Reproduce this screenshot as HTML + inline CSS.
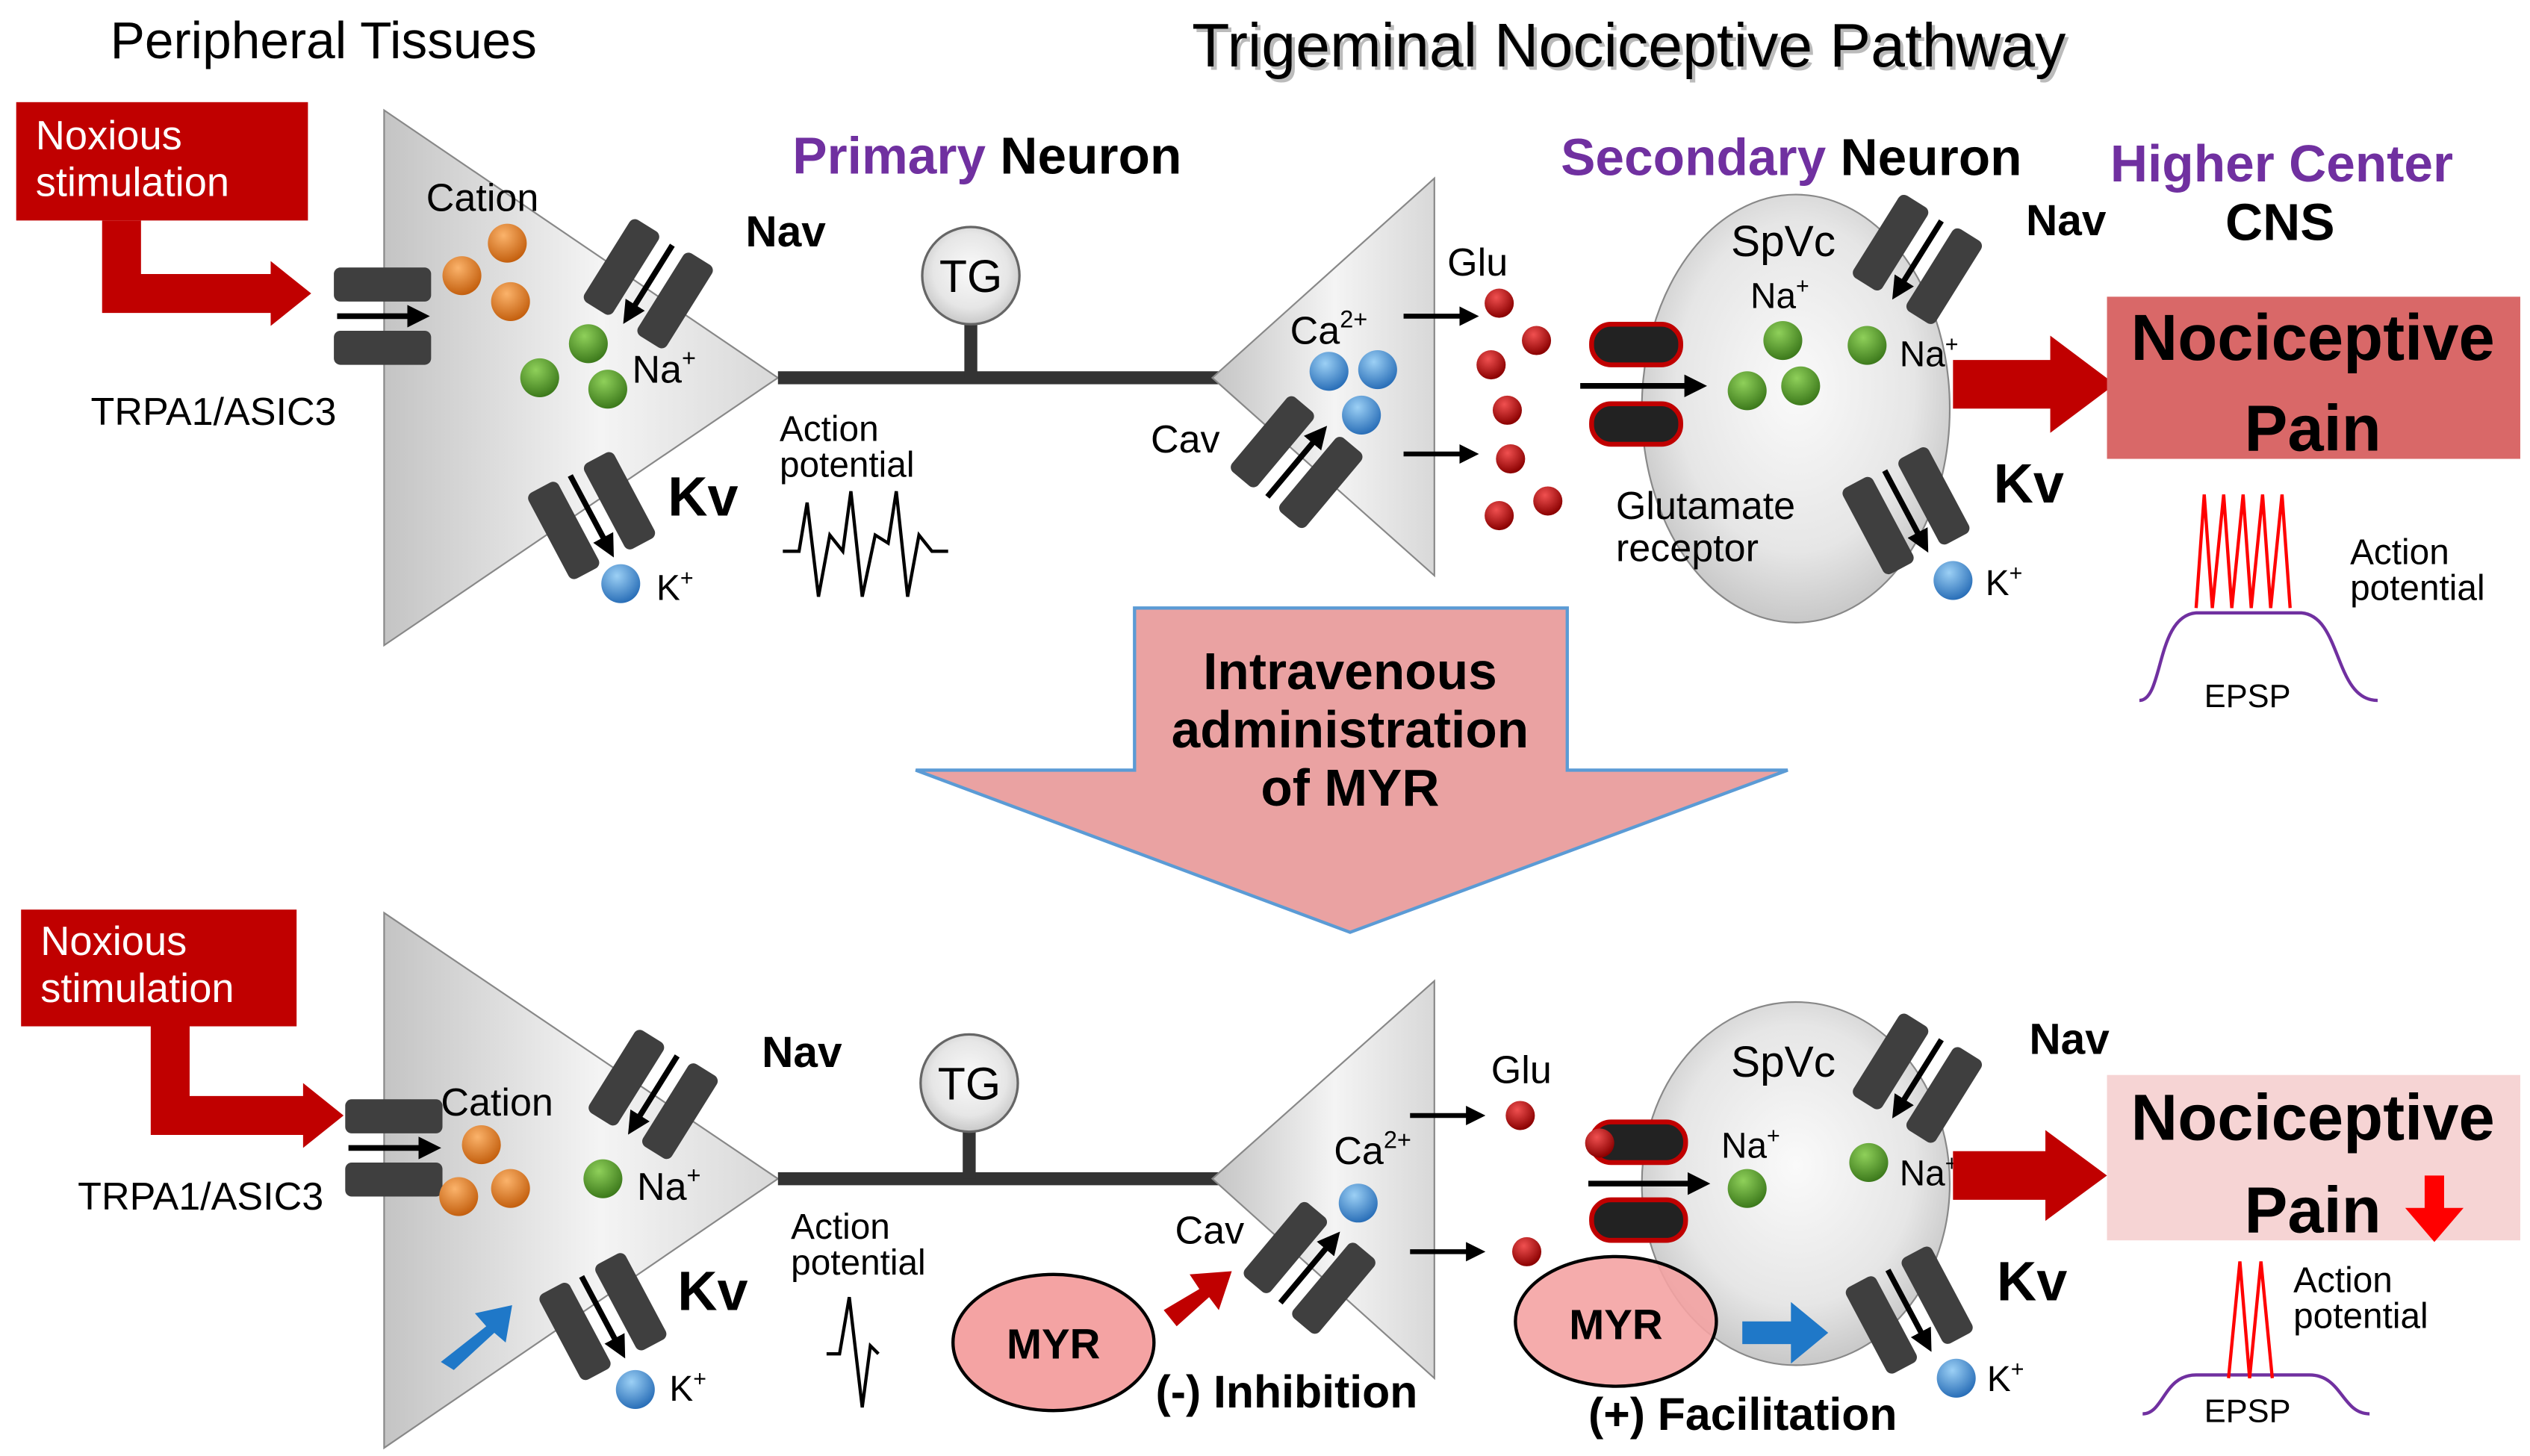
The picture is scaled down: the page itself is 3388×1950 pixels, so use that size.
<!DOCTYPE html>
<html><head><meta charset="utf-8"><style>html,body{margin:0;padding:0;background:#fff}svg{display:block}text{font-family:"Liberation Sans",sans-serif}</style></head><body>
<svg width="3388" height="1950" viewBox="0 0 1561 898" preserveAspectRatio="none" xmlns="http://www.w3.org/2000/svg">
<defs>
<linearGradient id="tri" x1="0" y1="0" x2="1" y2="0"><stop offset="0" stop-color="#c4c4c4"/><stop offset="0.55" stop-color="#f4f4f4"/><stop offset="1" stop-color="#d8d8d8"/></linearGradient>
<radialGradient id="cir" cx="0.5" cy="0.45" r="0.55"><stop offset="0" stop-color="#fafafa"/><stop offset="0.7" stop-color="#e6e6e6"/><stop offset="1" stop-color="#c8c8c8"/></radialGradient>
<radialGradient id="or" cx="0.4" cy="0.3" r="0.7"><stop offset="0" stop-color="#fbb36b"/><stop offset="1" stop-color="#c4600f"/></radialGradient>
<radialGradient id="gr" cx="0.4" cy="0.3" r="0.7"><stop offset="0" stop-color="#8fd05a"/><stop offset="1" stop-color="#3d7a1c"/></radialGradient>
<radialGradient id="bl" cx="0.4" cy="0.3" r="0.7"><stop offset="0" stop-color="#9cd0f5"/><stop offset="1" stop-color="#2a6fb8"/></radialGradient>
<radialGradient id="rd" cx="0.4" cy="0.3" r="0.7"><stop offset="0" stop-color="#f05050"/><stop offset="1" stop-color="#8a0000"/></radialGradient>
<marker id="ah" markerWidth="4" markerHeight="4" refX="2.5" refY="2" orient="auto"><path d="M0,0 L4,2 L0,4 z" fill="#000"/></marker>
<g id="ch"><rect x="-30" y="-30" width="21" height="60" rx="4" fill="#3f3f3f"/><rect x="9" y="-30" width="21" height="60" rx="4" fill="#3f3f3f"/><line x1="0" y1="-28" x2="0" y2="24" stroke="#000" stroke-width="3.5" marker-end="url(#ah)"/></g>
</defs>
<text x="68" y="36" font-size="32">Peripheral Tissues</text>
<text x="1007" y="43" font-size="38" text-anchor="middle" fill="#bbb">Trigeminal Nociceptive Pathway</text>
<text x="1005" y="41" font-size="38" text-anchor="middle">Trigeminal Nociceptive Pathway</text>

<!-- TOP -->
<rect x="10" y="63" width="180" height="73" fill="#c00000"/>
<text x="22" y="92" font-size="25" fill="#fff">Noxious</text><text x="22" y="121" font-size="25" fill="#fff">stimulation</text>
<path d="M75,136 V181 H170" stroke="#c00000" stroke-width="24" fill="none"/><path d="M167,161 L192,181 L167,201z" fill="#c00000"/>
<polygon points="237,68 237,398 480,233" fill="url(#tri)" stroke="#888"/>
<use href="#ch" transform="translate(236,195) rotate(-90)"/>
<text x="56" y="262" font-size="24">TRPA1/ASIC3</text>
<text x="263" y="130" font-size="24">Cation</text>
<circle cx="313" cy="150" r="12" fill="url(#or)"/><circle cx="285" cy="170" r="12" fill="url(#or)"/><circle cx="315" cy="186" r="12" fill="url(#or)"/>
<use href="#ch" transform="translate(400,175) rotate(32)"/>
<circle cx="333" cy="233" r="12" fill="url(#gr)"/><circle cx="363" cy="212" r="12" fill="url(#gr)"/><circle cx="375" cy="240" r="12" fill="url(#gr)"/>
<text x="390" y="236" font-size="24">Na<tspan font-size="15" dy="-10">+</tspan></text>
<text x="460" y="152" font-size="27" font-weight="bold">Nav</text>
<use href="#ch" transform="translate(365,318) rotate(-28)"/>
<circle cx="383" cy="360" r="12" fill="url(#bl)"/>
<text x="405" y="370" font-size="22">K<tspan font-size="14" dy="-9">+</tspan></text>
<text x="412" y="318" font-size="34" font-weight="bold">Kv</text>
<line x1="480" y1="233" x2="752" y2="233" stroke="#333" stroke-width="8"/>
<line x1="599" y1="195" x2="599" y2="233" stroke="#333" stroke-width="8"/>
<circle cx="599" cy="170" r="30" fill="url(#cir)" stroke="#666" stroke-width="1.5"/>
<text x="599" y="180" font-size="28" text-anchor="middle">TG</text>
<text x="489" y="107" font-size="32" font-weight="bold" fill="#7030a0">Primary <tspan fill="#000">Neuron</tspan></text>
<text x="481" y="272" font-size="22">Action</text><text x="481" y="294" font-size="22">potential</text>
<path d="M483,340 H493 L498,310 L505,368 L512,330 L520,340 L525,303 L532,368 L540,330 L548,335 L553,303 L560,368 L567,330 L575,340 L585,340" stroke="#000" stroke-width="2" fill="none"/>
<polygon points="885,110 885,355 748,233" fill="url(#tri)" stroke="#888"/>
<text x="796" y="212" font-size="24">Ca<tspan font-size="15" dy="-10">2+</tspan></text>
<circle cx="820" cy="229" r="12" fill="url(#bl)"/><circle cx="850" cy="228" r="12" fill="url(#bl)"/><circle cx="840" cy="256" r="12" fill="url(#bl)"/>
<text x="710" y="279" font-size="24">Cav</text>
<use href="#ch" transform="translate(800,285) rotate(-140)"/>
<text x="893" y="170" font-size="24">Glu</text>
<line x1="866" y1="195" x2="908" y2="195" stroke="#000" stroke-width="3" marker-end="url(#ah)"/>
<line x1="866" y1="280" x2="908" y2="280" stroke="#000" stroke-width="3" marker-end="url(#ah)"/>
<g fill="url(#rd)"><circle cx="925" cy="187" r="9"/><circle cx="948" cy="210" r="9"/><circle cx="920" cy="225" r="9"/><circle cx="930" cy="253" r="9"/><circle cx="932" cy="283" r="9"/><circle cx="955" cy="309" r="9"/><circle cx="925" cy="318" r="9"/></g>
<ellipse cx="1108" cy="252" rx="95" ry="132" fill="url(#cir)" stroke="#888"/>
<rect x="982" y="200" width="55" height="25" rx="12" fill="#222" stroke="#c00000" stroke-width="3"/>
<rect x="982" y="249" width="55" height="25" rx="12" fill="#222" stroke="#c00000" stroke-width="3"/>
<line x1="975" y1="238" x2="1048" y2="238" stroke="#000" stroke-width="3.5" marker-end="url(#ah)"/>
<text x="997" y="320" font-size="24">Glutamate</text><text x="997" y="346" font-size="24">receptor</text>
<text x="1068" y="158" font-size="27">SpVc</text>
<text x="1080" y="190" font-size="22">Na<tspan font-size="14" dy="-9">+</tspan></text>
<circle cx="1100" cy="210" r="12" fill="url(#gr)"/><circle cx="1078" cy="241" r="12" fill="url(#gr)"/><circle cx="1111" cy="238" r="12" fill="url(#gr)"/><circle cx="1152" cy="213" r="12" fill="url(#gr)"/>
<text x="1172" y="226" font-size="22">Na<tspan font-size="14" dy="-9">+</tspan></text>
<use href="#ch" transform="translate(1183,160) rotate(32)"/>
<text x="1250" y="145" font-size="27" font-weight="bold">Nav</text>
<use href="#ch" transform="translate(1176,315) rotate(-28)"/>
<circle cx="1205" cy="358" r="12" fill="url(#bl)"/>
<text x="1225" y="367" font-size="22">K<tspan font-size="14" dy="-9">+</tspan></text>
<text x="1230" y="310" font-size="34" font-weight="bold">Kv</text>
<text x="963" y="108" font-size="32" font-weight="bold" fill="#7030a0">Secondary <tspan fill="#000">Neuron</tspan></text>
<text x="1302" y="112" font-size="32" font-weight="bold" fill="#7030a0">Higher  Center</text>
<text x="1373" y="148" font-size="32" font-weight="bold">CNS</text>
<path d="M1205,222 H1265 V207 L1305,237 L1265,267 V252 H1205z" fill="#c00000"/>
<rect x="1300" y="183" width="255" height="100" fill="#d96868"/>
<text x="1427" y="222" font-size="40" font-weight="bold" text-anchor="middle">Nociceptive</text>
<text x="1427" y="278" font-size="40" font-weight="bold" text-anchor="middle">Pain</text>
<path d="M1320,432 C1335,432 1330,380 1355,378 L1420,378 C1445,380 1440,432 1467,432" stroke="#7030a0" stroke-width="2" fill="none"/>
<path d="M1355,375 L1360,305 L1365,375 L1372,305 L1377,375 L1384,305 L1389,375 L1396,305 L1401,375 L1408,305 L1413,375" stroke="#f00" stroke-width="2" fill="none"/>
<text x="1450" y="348" font-size="22">Action</text><text x="1450" y="370" font-size="22">potential</text>
<text x="1360" y="436" font-size="20">EPSP</text>

<!-- BIG ARROW -->
<polygon points="700,375 967,375 967,475 1103,475 833,575 565,475 700,475" fill="#eaa2a2" stroke="#5b9bd5" stroke-width="2"/>
<text x="833" y="425" font-size="32" font-weight="bold" text-anchor="middle">Intravenous</text>
<text x="833" y="461" font-size="32" font-weight="bold" text-anchor="middle">administration</text>
<text x="833" y="497" font-size="32" font-weight="bold" text-anchor="middle">of MYR</text>

<!-- BOTTOM -->
<rect x="13" y="561" width="170" height="72" fill="#c00000"/>
<text x="25" y="589" font-size="25" fill="#fff">Noxious</text><text x="25" y="618" font-size="25" fill="#fff">stimulation</text>
<path d="M105,633 V688 H190" stroke="#c00000" stroke-width="24" fill="none"/><path d="M187,668 L212,688 L187,708z" fill="#c00000"/>
<polygon points="237,563 237,893 480,727" fill="url(#tri)" stroke="#888"/>
<use href="#ch" transform="translate(243,708) rotate(-90)"/>
<text x="48" y="746" font-size="24">TRPA1/ASIC3</text>
<text x="272" y="688" font-size="24">Cation</text>
<circle cx="297" cy="706" r="12" fill="url(#or)"/><circle cx="283" cy="738" r="12" fill="url(#or)"/><circle cx="315" cy="733" r="12" fill="url(#or)"/>
<use href="#ch" transform="translate(403,675) rotate(32)"/>
<circle cx="372" cy="727" r="12" fill="url(#gr)"/>
<text x="393" y="740" font-size="24">Na<tspan font-size="15" dy="-10">+</tspan></text>
<text x="470" y="658" font-size="27" font-weight="bold">Nav</text>
<path d="M272,840 L300,818 L293,810 L316,805 L312,828 L305,822 L280,845z" fill="#1f78c8"/>
<use href="#ch" transform="translate(372,812) rotate(-28)"/>
<circle cx="392" cy="857" r="12" fill="url(#bl)"/>
<text x="413" y="864" font-size="22">K<tspan font-size="14" dy="-9">+</tspan></text>
<text x="418" y="808" font-size="34" font-weight="bold">Kv</text>
<line x1="480" y1="727" x2="752" y2="727" stroke="#333" stroke-width="8"/>
<line x1="598" y1="690" x2="598" y2="727" stroke="#333" stroke-width="8"/>
<circle cx="598" cy="668" r="30" fill="url(#cir)" stroke="#666" stroke-width="1.5"/>
<text x="598" y="678" font-size="28" text-anchor="middle">TG</text>
<text x="488" y="764" font-size="22">Action</text><text x="488" y="786" font-size="22">potential</text>
<path d="M510,835 H518 L524,800 L532,868 L537,830 L542,835" stroke="#000" stroke-width="2" fill="none"/>
<polygon points="885,605 885,850 748,727" fill="url(#tri)" stroke="#888"/>
<text x="823" y="718" font-size="24">Ca<tspan font-size="15" dy="-10">2+</tspan></text>
<circle cx="838" cy="742" r="12" fill="url(#bl)"/>
<text x="725" y="767" font-size="24">Cav</text>
<use href="#ch" transform="translate(808,782) rotate(-140)"/>
<ellipse cx="650" cy="828" rx="62" ry="42" fill="#f4a3a3" stroke="#000" stroke-width="2"/>
<text x="650" y="838" font-size="26" font-weight="bold" text-anchor="middle">MYR</text>
<path d="M718,808 L740,795 L734,786 L760,784 L752,808 L746,800 L726,818z" fill="#c00000"/>
<text x="713" y="868" font-size="28" font-weight="bold">(-) Inhibition</text>
<text x="920" y="668" font-size="24">Glu</text>
<line x1="870" y1="688" x2="912" y2="688" stroke="#000" stroke-width="3" marker-end="url(#ah)"/>
<line x1="870" y1="772" x2="912" y2="772" stroke="#000" stroke-width="3" marker-end="url(#ah)"/>
<circle cx="938" cy="688" r="9" fill="url(#rd)"/><circle cx="942" cy="772" r="9" fill="url(#rd)"/>
<ellipse cx="1108" cy="730" rx="95" ry="112" fill="url(#cir)" stroke="#888"/>
<rect x="982" y="692" width="58" height="25" rx="12" fill="#222" stroke="#c00000" stroke-width="3"/>
<rect x="982" y="740" width="58" height="25" rx="12" fill="#222" stroke="#c00000" stroke-width="3"/>
<circle cx="987" cy="705" r="9" fill="url(#rd)"/>
<line x1="980" y1="730" x2="1050" y2="730" stroke="#000" stroke-width="3.5" marker-end="url(#ah)"/>
<text x="1068" y="664" font-size="27">SpVc</text>
<text x="1062" y="714" font-size="22">Na<tspan font-size="14" dy="-9">+</tspan></text>
<circle cx="1078" cy="733" r="12" fill="url(#gr)"/><circle cx="1153" cy="717" r="12" fill="url(#gr)"/>
<text x="1172" y="731" font-size="22">Na<tspan font-size="14" dy="-9">+</tspan></text>
<use href="#ch" transform="translate(1183,665) rotate(32)"/>
<text x="1252" y="650" font-size="27" font-weight="bold">Nav</text>
<ellipse cx="997" cy="815" rx="62" ry="40" fill="#f4a3a3" stroke="#000" stroke-width="2" fill-opacity="0.9"/>
<text x="997" y="826" font-size="26" font-weight="bold" text-anchor="middle">MYR</text>
<path d="M1075,815 H1105 V803 L1128,822 L1105,841 V829 H1075z" fill="#1f78c8"/>
<text x="980" y="882" font-size="28" font-weight="bold">(+) Facilitation</text>
<use href="#ch" transform="translate(1178,808) rotate(-28)"/>
<circle cx="1207" cy="850" r="12" fill="url(#bl)"/>
<text x="1226" y="858" font-size="22">K<tspan font-size="14" dy="-9">+</tspan></text>
<text x="1232" y="802" font-size="34" font-weight="bold">Kv</text>
<path d="M1205,710 H1262 V697 L1300,725 L1262,753 V740 H1205z" fill="#c00000"/>
<rect x="1300" y="663" width="255" height="102" fill="#f6d4d4"/>
<text x="1427" y="703" font-size="40" font-weight="bold" text-anchor="middle">Nociceptive</text>
<text x="1427" y="760" font-size="40" font-weight="bold" text-anchor="middle">Pain</text>
<path d="M1496,725 H1508 V745 H1520 L1502,766 L1484,745 H1496z" fill="#f00"/>
<path d="M1322,872 C1335,872 1335,848 1355,848 L1425,848 C1445,848 1445,872 1462,872" stroke="#7030a0" stroke-width="2" fill="none"/>
<path d="M1375,850 L1382,778 L1388,850 L1395,778 L1402,850" stroke="#f00" stroke-width="2" fill="none"/>
<text x="1415" y="797" font-size="22">Action</text><text x="1415" y="819" font-size="22">potential</text>
<text x="1360" y="877" font-size="20">EPSP</text>
</svg>
</body></html>
